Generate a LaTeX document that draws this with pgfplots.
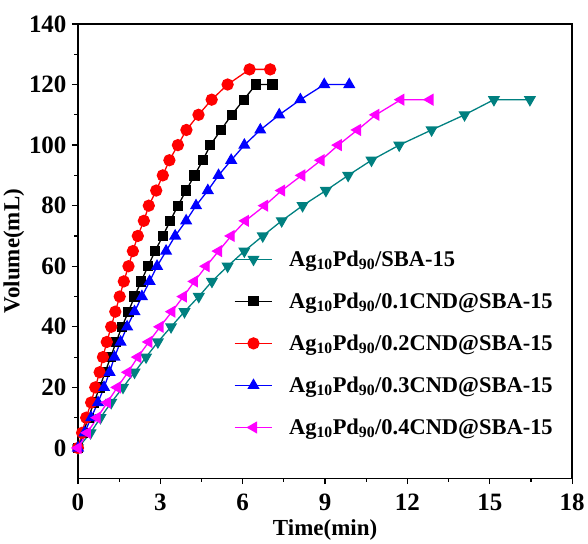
\documentclass[border=0pt]{standalone}
\usepackage{fontspec}
\setmainfont{Liberation Serif}
\usepackage{pgfplots}
\pgfplotsset{compat=1.18}
\definecolor{cteal}{RGB}{0,128,128}
\definecolor{cmag}{RGB}{255,0,255}
\begin{document}
\begin{tikzpicture}
\begin{axis}[
  scale only axis,
  width=495pt, height=455pt,
  xmin=0, xmax=18, ymin=-10, ymax=140,
  xtick={0,3,...,18}, ytick={0,20,...,140},
  minor x tick num=1, minor y tick num=1,
  xtick pos=bottom, ytick pos=left,
  tick align=outside,
  major tick length=6pt, minor tick length=3.5pt,
  axis line style={line width=1.4pt},
  every tick/.style={line width=1.2pt, black},
  /pgf/number format/assume math mode=true,
  tick label style={font=\fontsize{25}{29}\selectfont\bfseries},
  xticklabel style={yshift=-6pt},
  yticklabel style={xshift=-2pt},
  label style={font=\fontsize{23}{27}\selectfont\bfseries},
  xlabel={Time(min)},
  ylabel={Volume(mL)},
  xlabel style={at={(axis description cs:0.5,0)}, anchor=north, yshift=-38pt},
  ylabel style={yshift=-2pt},
  legend style={draw=none, fill=none, at={(0.309,0.51)}, anchor=north west,
    font=\fontsize{22.5}{26}\selectfont\bfseries, row sep=21pt,
    /tikz/every odd column/.append style={column sep=14pt}},
  legend cell align=left,
  legend image code/.code={
    \draw[mark repeat=2,mark phase=2] plot coordinates {(0pt,0pt) (19pt,0pt) (38pt,0pt)};},
  every axis plot/.append style={line width=1.3pt},
]
\addplot[cteal, mark=triangle*, mark size=5.8pt, mark options={rotate=180}] coordinates {
(0,0) (0.46,5) (0.82,10) (1.21,15) (1.64,20) (2.06,25) (2.48,30) (2.91,35) (3.39,40)
(3.88,45) (4.4,50) (4.88,55) (5.45,60) (6.06,65) (6.73,70) (7.42,75) (8.18,80)
(9.03,85) (9.84,90) (10.69,95) (11.7,100) (12.88,105) (14.08,110) (15.15,115) (16.46,115)};
\addlegendentry{Ag\textsubscript{10}Pd\textsubscript{90}/SBA-15}
\addplot[black, mark=square*, mark size=4.5pt] coordinates {
(0,0) (0.19,5) (0.38,10) (0.58,15) (0.79,20) (0.99,25) (1.19,30) (1.39,35) (1.6,40)
(1.84,45) (2.06,50) (2.3,55) (2.55,60) (2.81,65) (3.09,70) (3.36,75) (3.64,80)
(3.94,85) (4.24,90) (4.55,95) (4.82,100) (5.21,105) (5.6,110) (6.04,115) (6.48,120) (7.09,120)};
\addlegendentry{Ag\textsubscript{10}Pd\textsubscript{90}/0.1CND@SBA-15}
\addplot[red, mark=*, mark size=5.5pt] coordinates {
(0,0) (0.15,5) (0.3,10) (0.48,15) (0.63,20) (0.79,25) (0.91,30) (1.05,35) (1.21,40)
(1.36,45) (1.52,50) (1.67,55) (1.84,60) (2.0,65) (2.18,70) (2.4,75) (2.58,80)
(2.85,85) (3.09,90) (3.33,95) (3.64,100) (3.95,105) (4.39,110) (4.87,115) (5.45,120) (6.25,125) (7.0,125)};
\addlegendentry{Ag\textsubscript{10}Pd\textsubscript{90}/0.2CND@SBA-15}
\addplot[blue, mark=triangle*, mark size=5.8pt] coordinates {
(0,0) (0.24,5) (0.48,10) (0.73,15) (0.95,20) (1.15,25) (1.33,30) (1.55,35) (1.79,40)
(2.06,45) (2.33,50) (2.61,55) (2.88,60) (3.21,65) (3.54,70) (3.94,75) (4.3,80)
(4.73,85) (5.12,90) (5.58,95) (6.06,100) (6.64,105) (7.33,110) (8.1,115) (8.97,120) (9.88,120)};
\addlegendentry{Ag\textsubscript{10}Pd\textsubscript{90}/0.3CND@SBA-15}
\addplot[cmag, mark=triangle*, mark size=5.8pt, mark options={rotate=90}] coordinates {
(0,0) (0.34,5) (0.7,10) (1.07,15) (1.43,20) (1.82,25) (2.18,30) (2.58,35) (2.99,40)
(3.42,45) (3.84,50) (4.24,55) (4.67,60) (5.12,65) (5.58,70) (6.1,75) (6.8,80)
(7.42,85) (8.15,90) (8.85,95) (9.48,100) (10.18,105) (10.85,110) (11.76,115) (12.82,115)};
\addlegendentry{Ag\textsubscript{10}Pd\textsubscript{90}/0.4CND@SBA-15}
\end{axis}
\path (current axis.north) ++(0,24pt);
\end{tikzpicture}
\end{document}
